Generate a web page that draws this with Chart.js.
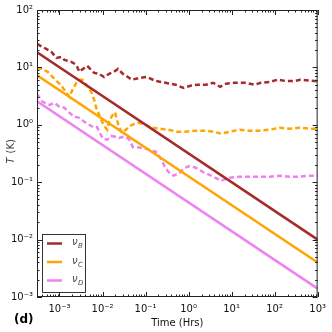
<!DOCTYPE html>
<html>
<head>
<meta charset="utf-8">
<script src="https://cdn.jsdelivr.net/npm/chart.js@4.4.0/dist/chart.umd.min.js"></script>
<style>
  html, body { margin: 0; padding: 0; background: #fff; }
  #wrap { width: 332px; height: 332px; }
</style>
</head>
<body>
<div id="wrap"><canvas id="chartCanvas" width="332" height="332"></canvas></div>
<script>
// Power-law fits (solid lines), end points in hours / K
const fitTimes = [3e-4, 1000];
const fitB = [18.3, 0.01];
const fitC = [7.3, 0.004];
const fitD = [2.56, 0.0014];

// Measured curves (dashed)
const timesB = [3.0e-4, 4.5e-4, 6.5e-4, 8.5e-4, 1.11e-3, 1.30e-3, 1.89e-3, 2.47e-3, 2.89e-3, 3.77e-3,
  4.42e-3, 6.40e-3, 8.36e-3, 0.0109, 0.0142, 0.0185, 0.0229, 0.0299, 0.0389, 0.0481,
  0.0774, 0.107, 0.172, 0.292, 0.497, 0.759, 1.10, 1.68, 2.57, 3.72,
  5.41, 7.43, 12.0, 20.4, 34.6, 47.5, 76.7, 117, 179, 289, 397, 836, 1000];
const tempsB = [25.6, 21.8, 18.6, 14.6, 15.2, 13.5, 12.5, 11.0, 8.4, 9.8,
  10.6, 8.0, 7.7, 6.8, 7.7, 8.4, 9.4, 7.7, 6.8, 6.1,
  6.6, 6.8, 5.8, 5.4, 5.0, 4.4, 4.8, 5.0, 5.0, 5.4,
  4.6, 5.2, 5.4, 5.4, 5.0, 5.4, 5.6, 6.1, 5.8, 5.8, 6.1, 5.8, 5.8];

const timesC = [3.0e-4, 3.85e-4, 5.3e-4, 6.55e-4, 7.67e-4, 9.0e-4, 1.11e-3, 1.45e-3, 1.70e-3, 2.0e-3,
  2.47e-3, 2.89e-3, 3.39e-3, 4.19e-3, 5.46e-3, 6.40e-3, 7.13e-3, 8.36e-3, 9.29e-3, 0.0109,
  0.0128, 0.0142, 0.0166, 0.0195, 0.0217, 0.0241, 0.0283, 0.035, 0.041, 0.048,
  0.0697, 0.101, 0.139, 0.224, 0.343, 0.524, 0.843, 1.44, 2.44, 3.72,
  5.70, 9.18, 15.6, 26.5, 45.1, 76.7, 130, 222, 377, 675, 1000];
const tempsC = [9.8, 9.4, 8.4, 7.1, 6.3, 5.6, 4.8, 3.6, 3.07, 4.06,
  5.4, 6.1, 6.1, 5.0, 3.75, 2.72, 1.98, 1.49, 1.22, 0.96,
  0.82, 1.13, 1.43, 1.66, 1.22, 0.92, 0.73, 0.82, 0.92, 1.0,
  1.08, 1.0, 0.89, 0.85, 0.82, 0.76, 0.76, 0.79, 0.79, 0.76,
  0.70, 0.76, 0.82, 0.79, 0.79, 0.82, 0.89, 0.85, 0.89, 0.85, 0.85];

const timesD = [3.0e-4, 4.06e-4, 5.89e-4, 7.67e-4, 1.0e-3, 1.30e-3, 1.70e-3, 2.22e-3, 2.89e-3, 3.77e-3,
  4.91e-3, 6.40e-3, 7.52e-3, 8.81e-3, 0.0103, 0.0128, 0.0158, 0.0195, 0.0241, 0.0315,
  0.041, 0.0507, 0.0774, 0.119, 0.172, 0.224, 0.277, 0.343, 0.447, 0.582,
  0.759, 0.989, 1.44, 2.19, 3.35, 5.70, 9.18, 15.6, 26.5, 45.1,
  76.7, 130, 222, 377, 675, 1000];
const tempsD = [3.46, 2.51, 2.23, 2.41, 2.06, 1.98, 1.62, 1.38, 1.32, 1.13,
  1.0, 0.89, 0.91, 0.70, 0.57, 0.55, 0.64, 0.62, 0.59, 0.62,
  0.57, 0.41, 0.40, 0.37, 0.34, 0.26, 0.19, 0.15, 0.13, 0.14,
  0.17, 0.19, 0.18, 0.15, 0.13, 0.106, 0.12, 0.125, 0.125, 0.125,
  0.125, 0.13, 0.125, 0.125, 0.13, 0.13];

const seriesNames = ['B', 'C', 'D'];
const seriesColors = ['#a52a2a', '#ffa500', '#ee82ee'];

const xTickValues = [1e-3, 1e-2, 1e-1, 1, 10, 100, 1000];
const xTickLabels = ['10\u207B\u00B3', '10\u207B\u00B2', '10\u207B\u00B9', '10\u2070', '10\u00B9', '10\u00B2', '10\u00B3'];
const yTickValues = [1e-3, 1e-2, 1e-1, 1, 10, 100];
const yTickLabels = ['10\u207B\u00B3', '10\u207B\u00B2', '10\u207B\u00B9', '10\u2070', '10\u00B9', '10\u00B2'];

function pairs(xs, ys) {
  return xs.map(function(x, i) { return { x: x, y: ys[i] }; });
}

// Draw frame, inward ticks, titles and legend
const decorPlugin = {
  id: 'decor',
  afterDraw: function(chart) {
    const ctx = chart.ctx;
    const a = chart.chartArea;
    const xs = chart.scales.x;
    const ys = chart.scales.y;
    ctx.save();
    ctx.strokeStyle = '#222';
    ctx.lineWidth = 1;
    ctx.strokeRect(a.left + 0.5, a.top + 0.5, a.right - a.left - 1, a.bottom - a.top - 1);

    ctx.beginPath();
    for (let k = -4; k <= 3; k++) {
      for (let m = 1; m <= 9; m++) {
        const v = m * Math.pow(10, k);
        if (v < xs.min || v > xs.max) continue;
        const px = Math.round(xs.getPixelForValue(v)) + 0.5;
        const len = m === 1 ? 5 : 2.5;
        ctx.moveTo(px, a.bottom); ctx.lineTo(px, a.bottom - len);
        ctx.moveTo(px, a.top); ctx.lineTo(px, a.top + len);
      }
    }
    for (let k = -3; k <= 2; k++) {
      for (let m = 1; m <= 9; m++) {
        const v = m * Math.pow(10, k);
        if (v < ys.min || v > ys.max) continue;
        const py = Math.round(ys.getPixelForValue(v)) + 0.5;
        const len = m === 1 ? 5 : 2.5;
        ctx.moveTo(a.left, py); ctx.lineTo(a.left + len, py);
        ctx.moveTo(a.right, py); ctx.lineTo(a.right - len, py);
      }
    }
    ctx.stroke();

    // axis titles
    ctx.fillStyle = '#111';
    ctx.font = '10px "DejaVu Sans"';
    ctx.textAlign = 'center';
    ctx.textBaseline = 'middle';
    ctx.fillText('Time (Hrs)', (a.left + a.right) / 2, 323);

    ctx.save();
    ctx.translate(11, (a.top + a.bottom) / 2);
    ctx.rotate(-Math.PI / 2);
    ctx.fillStyle = '#444';
    ctx.font = 'italic 10px "DejaVu Sans"';
    ctx.textAlign = 'right';
    ctx.fillText('T', -4, 0);
    ctx.font = '10px "DejaVu Sans"';
    ctx.textAlign = 'left';
    ctx.fillText('(K)', 0, 0);
    ctx.restore();

    ctx.font = 'bold 12px "DejaVu Sans"';
    ctx.textAlign = 'left';
    ctx.fillStyle = '#000';
    ctx.fillText('(d)', 14, 320);

    // legend
    ctx.fillStyle = '#fff';
    ctx.fillRect(42, 234, 43, 58);
    ctx.strokeStyle = '#333';
    ctx.strokeRect(42.5, 234.5, 43, 58);
    seriesNames.forEach(function(name, i) {
      const y = 243.5 + i * 18.5;
      ctx.strokeStyle = seriesColors[i];
      ctx.lineWidth = 2.5;
      ctx.beginPath();
      ctx.moveTo(47, y); ctx.lineTo(62, y);
      ctx.stroke();
      ctx.fillStyle = '#444';
      ctx.textAlign = 'left';
      ctx.font = 'italic 10px "DejaVu Sans"';
      ctx.fillText('\u03BD', 72, y - 1);
      ctx.font = 'italic 7px "DejaVu Sans"';
      ctx.fillText(name, 78, y + 3);
    });
    ctx.restore();
  }
};

const solidStyle = { borderWidth: 2.5, pointRadius: 0, fill: false, tension: 0 };
const dashStyle = { borderWidth: 2.5, pointRadius: 0, fill: false, tension: 0, borderDash: [5, 3] };

new Chart(document.getElementById('chartCanvas'), {
  type: 'line',
  data: {
    datasets: [
      Object.assign({ label: 'fit B', data: pairs(fitTimes, fitB), borderColor: seriesColors[0] }, solidStyle),
      Object.assign({ label: 'fit C', data: pairs(fitTimes, fitC), borderColor: seriesColors[1] }, solidStyle),
      Object.assign({ label: 'fit D', data: pairs(fitTimes, fitD), borderColor: seriesColors[2] }, solidStyle),
      Object.assign({ label: 'B', data: pairs(timesB, tempsB), borderColor: seriesColors[0] }, dashStyle),
      Object.assign({ label: 'C', data: pairs(timesC, tempsC), borderColor: seriesColors[1] }, dashStyle),
      Object.assign({ label: 'D', data: pairs(timesD, tempsD), borderColor: seriesColors[2] }, dashStyle)
    ]
  },
  options: {
    responsive: false,
    animation: false,
    layout: { padding: { top: 10, right: 11, left: 0, bottom: 0 } },
    plugins: { legend: { display: false }, tooltip: { enabled: false } },
    scales: {
      x: {
        type: 'logarithmic',
        min: 3e-4,
        max: 1000,
        grid: { display: false, drawTicks: false },
        border: { display: false },
        afterFit: function(s) { s.height = 35; },
        afterBuildTicks: function(s) { s.ticks = xTickValues.map(function(v) { return { value: v }; }); },
        ticks: {
          autoSkip: false, maxRotation: 0, padding: 6, color: '#111',
          font: { family: 'DejaVu Sans', size: 10 },
          callback: function(v) { return xTickLabels[xTickValues.indexOf(v)]; }
        }
      },
      y: {
        type: 'logarithmic',
        min: 1e-3,
        max: 100,
        grid: { display: false, drawTicks: false },
        border: { display: false },
        afterFit: function(s) { s.width = 37; },
        afterBuildTicks: function(s) { s.ticks = yTickValues.map(function(v) { return { value: v }; }); },
        ticks: {
          autoSkip: false, padding: 4, color: '#111',
          font: { family: 'DejaVu Sans', size: 10 },
          callback: function(v) { return yTickLabels[yTickValues.indexOf(v)]; }
        }
      }
    }
  },
  plugins: [decorPlugin]
});
</script>
</body>
</html>
